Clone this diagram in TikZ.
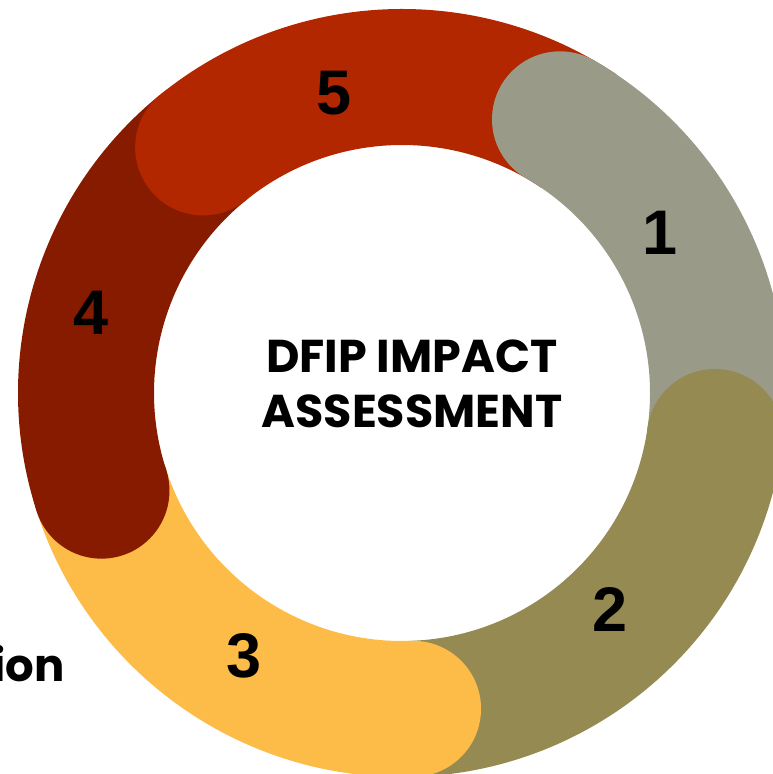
\documentclass[tikz,border=0pt]{standalone}
\usepackage{fontspec}
\setmainfont{Liberation Sans}
\newfontfamily\popfont{Poppins}
\usetikzlibrary{positioning}
\definecolor{segone}{HTML}{9A9A88}
\definecolor{segtwo}{HTML}{968A53}
\definecolor{segthree}{HTML}{FDBB48}
\definecolor{segfour}{HTML}{861B00}
\definecolor{segfive}{HTML}{B22600}
\tikzstyle{segment} = [line width=136pt, line cap=butt]
\tikzstyle{numeral} = [inner sep=0pt, font=\fontsize{63}{63}\selectfont\bfseries]
\tikzstyle{title} = [inner sep=0pt, align=center, font=\popfont\fontsize{46}{55}\selectfont\bfseries]

\begin{document}
\begin{tikzpicture}[x=1pt, y=1pt]
    \useasboundingbox (0,0) rectangle (773,774);
    \clip (0,0) rectangle (773,774);
    \coordinate (c) at (402,381);
    % ring segments
    \draw[segment, segfive] (c) ++(129:316) arc[start angle=129, end angle=56, radius=316];
    \draw[segment, segone] (c) ++(60:316) arc[start angle=60, end angle=-8, radius=316];
    \draw[segment, segtwo] (c) ++(-8:316) arc[start angle=-8, end angle=-88, radius=316];
    \draw[segment, segthree] (c) ++(-88:316) arc[start angle=-88, end angle=-162, radius=316];
    \draw[segment, segfour] (c) ++(-162:316) arc[start angle=-162, end angle=-231, radius=316];
    % round starts
    \fill[segfive] (c) ++(129:316) circle[radius=68];
    \fill[segone] (c) ++(60:316) circle[radius=68];
    \fill[segtwo] (c) ++(-8:316) circle[radius=68];
    \fill[segthree] (c) ++(-88:316) circle[radius=68];
    \fill[segfour] (c) ++(-162:316) circle[radius=68];
    % labels
    \node[numeral](n5) at (334,681){5};
    \node[numeral](n1) at (660,541){1};
    \node[numeral](n2) at (610,164){2};
    \node[numeral](n3) at (244,118){3};
    \node[numeral](n4) at (91,461){4};
    \node[title](title) at (412,390){DFIP IMPACT\\ASSESSMENT};
    \node[anchor=base east, inner sep=0pt, font=\popfont\fontsize{45}{45}\selectfont\bfseries](cut) at (65,92){ion};
\end{tikzpicture}
\end{document}
